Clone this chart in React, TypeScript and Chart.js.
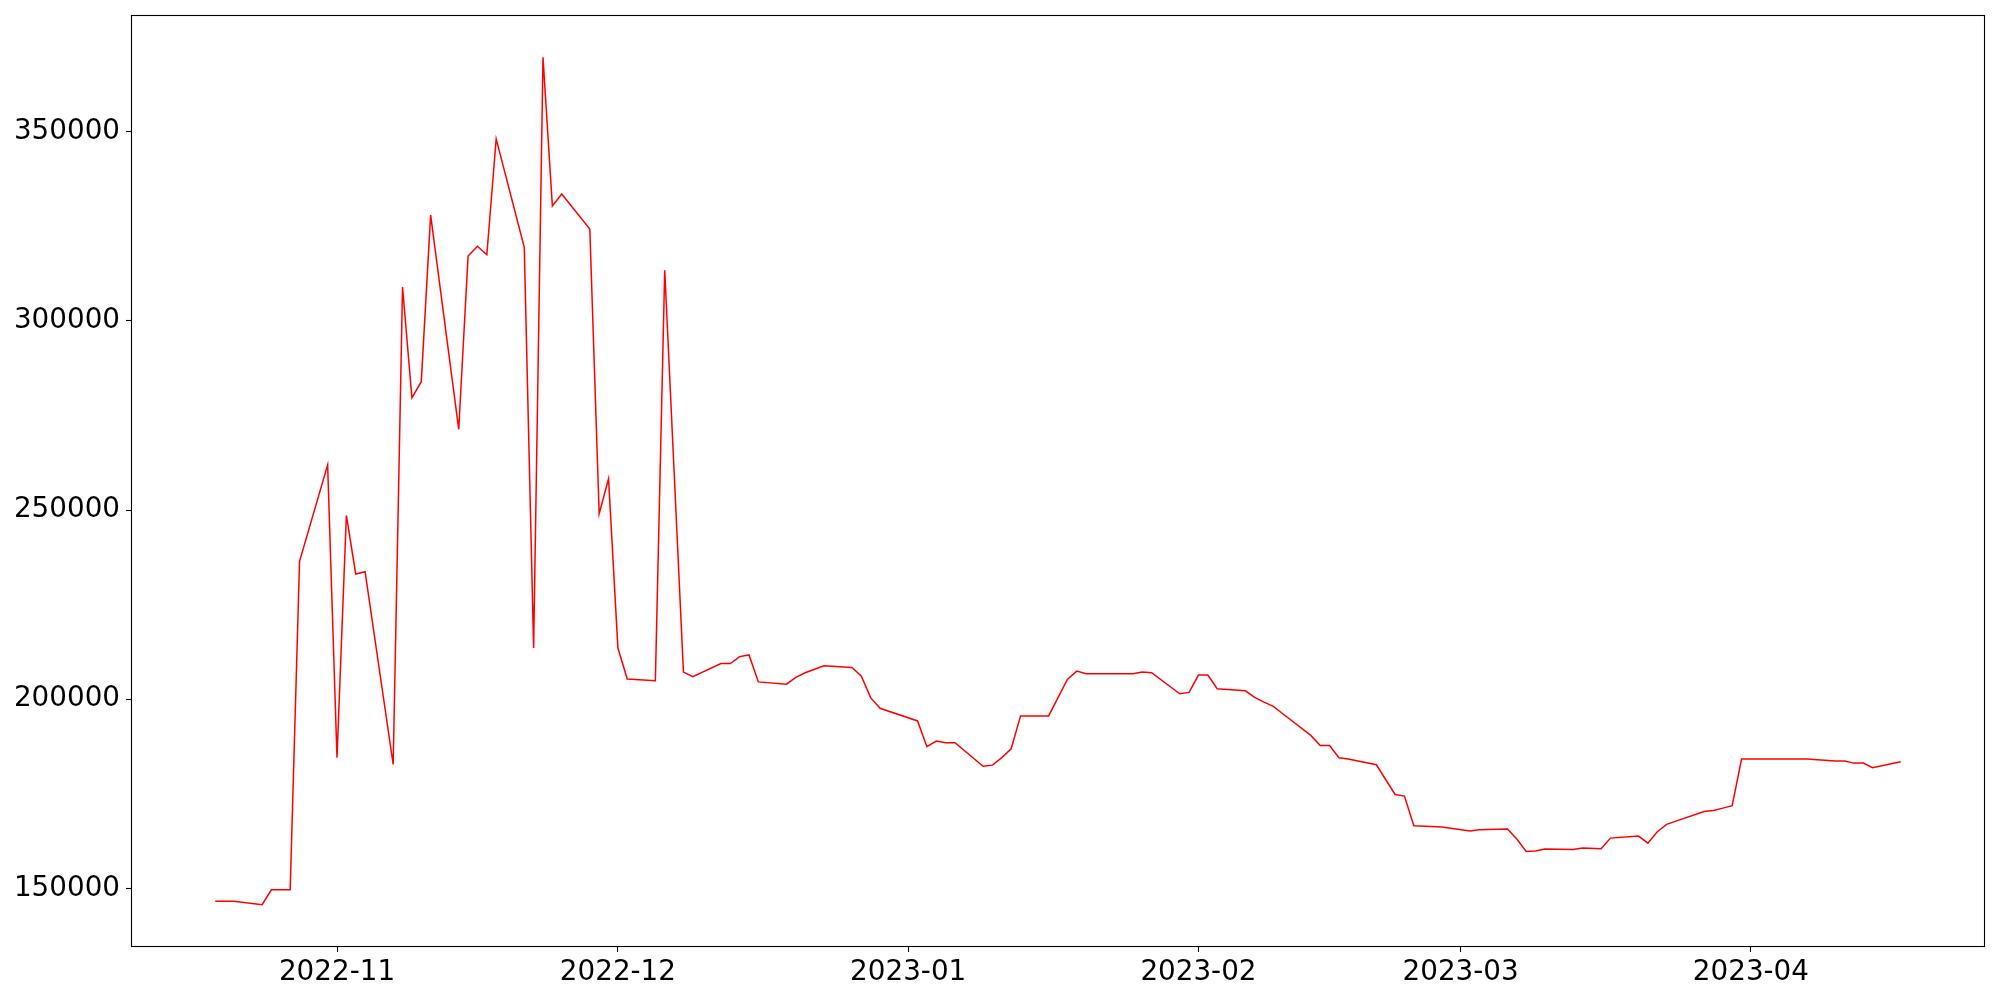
import { useEffect, useRef } from "react";
import { Chart, registerables } from "chart.js";

Chart.register(...registerables);

const dates = [
  "2022-10-19", "2022-10-21", "2022-10-24", "2022-10-25", "2022-10-27", "2022-10-28", "2022-10-31",
  "2022-11-01", "2022-11-02", "2022-11-03", "2022-11-04", "2022-11-07", "2022-11-08", "2022-11-09",
  "2022-11-10", "2022-11-11", "2022-11-14", "2022-11-15", "2022-11-16", "2022-11-17", "2022-11-18",
  "2022-11-21", "2022-11-22", "2022-11-23", "2022-11-24", "2022-11-25", "2022-11-28", "2022-11-29",
  "2022-11-30", "2022-12-01", "2022-12-02", "2022-12-05", "2022-12-06", "2022-12-08", "2022-12-09",
  "2022-12-12", "2022-12-13", "2022-12-14", "2022-12-15", "2022-12-16", "2022-12-19", "2022-12-20",
  "2022-12-21", "2022-12-23", "2022-12-26", "2022-12-27", "2022-12-28", "2022-12-29", "2023-01-02",
  "2023-01-03", "2023-01-04", "2023-01-05", "2023-01-06", "2023-01-09", "2023-01-10", "2023-01-11",
  "2023-01-12", "2023-01-13", "2023-01-16", "2023-01-18", "2023-01-19", "2023-01-20", "2023-01-25",
  "2023-01-26", "2023-01-27", "2023-01-30", "2023-01-31", "2023-02-01", "2023-02-02", "2023-02-03",
  "2023-02-06", "2023-02-07", "2023-02-08", "2023-02-09", "2023-02-10", "2023-02-13", "2023-02-14",
  "2023-02-15", "2023-02-16", "2023-02-17", "2023-02-20", "2023-02-22", "2023-02-23", "2023-02-24",
  "2023-02-27", "2023-03-02", "2023-03-03", "2023-03-06", "2023-03-07", "2023-03-08", "2023-03-09",
  "2023-03-10", "2023-03-13", "2023-03-14", "2023-03-16", "2023-03-17", "2023-03-20", "2023-03-21",
  "2023-03-22", "2023-03-23", "2023-03-24", "2023-03-27", "2023-03-28", "2023-03-29", "2023-03-30",
  "2023-03-31", "2023-04-07", "2023-04-10", "2023-04-11", "2023-04-12", "2023-04-13", "2023-04-14",
  "2023-04-17",
];

const values = [
  146640, 146640, 145720, 149660, 149660, 236450, 261930,
  184570, 248580, 233100, 233700, 182750, 308950, 279670,
  283920, 327930, 271340, 317140, 319730, 317460, 348090,
  319420, 213540, 369630, 330360, 333530, 324280, 249030,
  258280, 213540, 205340, 204900, 313360, 207170, 205950,
  209440, 209440, 211260, 211710, 204580, 203970, 205790,
  207010, 208830, 208380, 206110, 200350, 197600, 194270,
  187450, 188960, 188510, 188510, 182270, 182590, 184570,
  186900, 195600, 195600, 205240, 207440, 206740, 206740,
  207170, 207000, 201450, 201800, 206380, 206380, 202770,
  202240, 200480, 199250, 198100, 196160, 190440, 187790,
  187790, 184530, 184180, 182680, 174840, 174400, 166560,
  166210, 165150, 165500, 165680, 163040, 159780, 159870,
  160400, 160310, 160660, 160480, 163300, 163830, 161980,
  164980, 166920, 167800, 170350, 170620, 171230, 171850,
  184180, 184180, 183650, 183650, 183120, 183120, 181890,
  183480,
];

const xTickLabels = ["2022-11", "2022-12", "2023-01", "2023-02", "2023-03", "2023-04"];
const yTickValues = [150000, 200000, 250000, 300000, 350000];

const toTs = (s: string) => {
  const [y, m, d] = s.split("-").map(Number);
  return Date.UTC(y, m - 1, d || 1);
};

const FONT = { family: "DejaVu Sans", size: 27.8 };

export default function App() {
  const ref = useRef<HTMLCanvasElement | null>(null);

  useEffect(() => {
    document.body.style.margin = "0";
    const canvas = ref.current;
    if (!canvas) return;

    const xs = dates.map(toTs);
    const points = xs.map((x, i) => ({ x, y: values[i] }));
    const xMinD = Math.min(...xs);
    const xMaxD = Math.max(...xs);
    const xPad = (xMaxD - xMinD) * 0.05;
    const yMinD = Math.min(...values);
    const yMaxD = Math.max(...values);
    const yPad = (yMaxD - yMinD) * 0.05;
    const xTickValues = xTickLabels.map((l) => toTs(l));
    const labelFor = new Map<number, string>();
    xTickValues.forEach((v, i) => labelFor.set(v, xTickLabels[i]));

    const framePlugin = {
      id: "frame",
      afterDraw(chart: any) {
        const { ctx, chartArea } = chart;
        ctx.save();
        ctx.strokeStyle = "#000";
        ctx.lineWidth = 1.1;
        ctx.strokeRect(
          Math.round(chartArea.left) + 0.5,
          Math.round(chartArea.top) + 0.5,
          Math.round(chartArea.right - chartArea.left) - 1,
          Math.round(chartArea.bottom - chartArea.top) - 1
        );
        ctx.restore();
      },
    };

    const chart = new Chart(canvas, {
      type: "line",
      data: {
        datasets: [
          {
            data: points,
            borderColor: "#ff0000",
            borderWidth: 1.5,
            pointRadius: 0,
            tension: 0,
            fill: false,
          },
        ],
      },
      options: {
        animation: false,
        responsive: false,
        devicePixelRatio: 1,
        layout: { padding: { top: 15, right: 15, left: 0, bottom: 0 } },
        plugins: {
          legend: { display: false },
          tooltip: { enabled: false },
        },
        scales: {
          x: {
            type: "linear",
            min: xMinD - xPad,
            max: xMaxD + xPad,
            afterBuildTicks: (scale: any) => {
              scale.ticks = xTickValues.map((v) => ({ value: v }));
            },
            afterFit: (scale: any) => {
              scale.height = 53;
              scale.paddingLeft = 0;
              scale.paddingRight = 0;
            },
            ticks: {
              autoSkip: false,
              maxRotation: 0,
              padding: 4,
              color: "#000",
              font: FONT,
              callback: (v: any) => labelFor.get(Number(v)) ?? "",
            },
            grid: {
              display: true,
              drawOnChartArea: false,
              drawTicks: true,
              tickLength: 5,
              tickWidth: 1.1,
              tickColor: "#000",
            },
            border: { display: false },
          },
          y: {
            type: "linear",
            min: yMinD - yPad,
            max: yMaxD + yPad,
            afterBuildTicks: (scale: any) => {
              scale.ticks = yTickValues.map((v) => ({ value: v }));
            },
            afterFit: (scale: any) => {
              scale.width = 131;
              scale.paddingTop = 0;
              scale.paddingBottom = 0;
            },
            ticks: {
              padding: 6,
              color: "#000",
              font: FONT,
              callback: (v: any) => String(v),
            },
            grid: {
              display: true,
              drawOnChartArea: false,
              drawTicks: true,
              tickLength: 5,
              tickWidth: 1.1,
              tickColor: "#000",
            },
            border: { display: false },
          },
        },
      },
      plugins: [framePlugin],
    } as any);

    return () => chart.destroy();
  }, []);

  return (
    <div style={{ width: 2000, height: 1000 }}>
      <canvas ref={ref} width={2000} height={1000} style={{ display: "block", width: 2000, height: 1000 }} />
    </div>
  );
}
